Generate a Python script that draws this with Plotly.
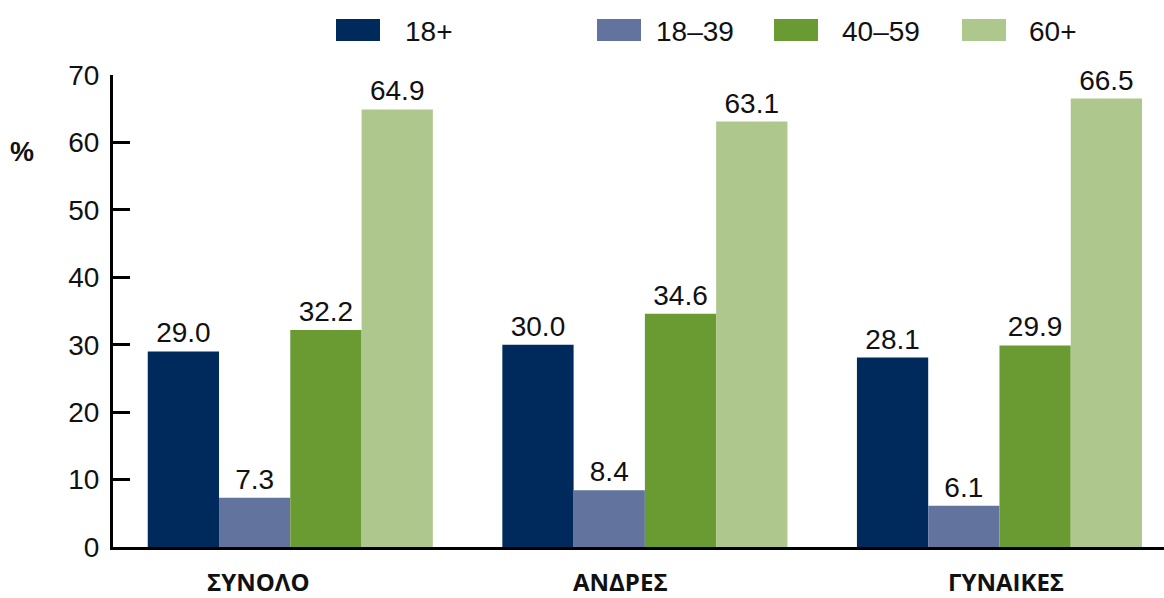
import plotly.graph_objects as go

categories = ["ΣΥΝΟΛΟ", "ΑΝΔΡΕΣ", "ΓΥΝΑΙΚΕΣ"]
series_names = ["18+", "18–39", "40–59", "60+"]
values_18plus = [29.0, 30.0, 28.1]
values_18_39 = [7.3, 8.4, 6.1]
values_40_59 = [32.2, 34.6, 29.9]
values_60plus = [64.9, 63.1, 66.5]
y_ticks = [0, 10, 20, 30, 40, 50, 60, 70]

series_values = [values_18plus, values_18_39, values_40_59, values_60plus]
colors = ["#002A5C", "#62749E", "#6A9B32", "#AEC78C"]

W, H = 1164, 598
L, R, T, B = 113, 0, 75, 51
PW = W - L - R
PH = H - T - B
FONT = "Liberation Sans"


def px_x(px):
    return (px - L) / PW


def px_y(py):
    return (H - B - py) / PH


fig = go.Figure()
for name, vals, col in zip(series_names, series_values, colors):
    fig.add_trace(go.Bar(
        x=list(range(len(categories))), y=vals, name=name,
        marker=dict(color=col, line=dict(width=0)),
        text=vals, texttemplate="%{y:.1f}", textposition="outside",
        textfont=dict(family=FONT, size=28, color="#111111"),
        cliponaxis=False, showlegend=False,
    ))

shapes = []
annotations = []
# legend (drawn manually to match big swatches)
swatch_x = [336, 597, 774, 962]
text_x = [403, 654, 840, 1027]
for sx, tx, name, col in zip(swatch_x, text_x, series_names, colors):
    shapes.append(dict(type="rect", xref="paper", yref="paper",
                       x0=px_x(sx), x1=px_x(sx + 44), y0=px_y(41), y1=px_y(19),
                       fillcolor=col, line=dict(width=0)))
    annotations.append(dict(xref="paper", yref="paper", x=px_x(tx), y=px_y(31),
                            text=name, showarrow=False, xanchor="left", yanchor="middle",
                            font=dict(family=FONT, size=28, color="#111111")))

# category labels
label_shift = [-32, -24, 7]
for i, (cat, sh) in enumerate(zip(categories, label_shift)):
    annotations.append(dict(xref="x", yref="paper", x=i, y=px_y(581), xshift=sh,
                            text="<b>" + cat + "</b>", showarrow=False,
                            xanchor="center", yanchor="middle",
                            font=dict(family="Open Sans", size=24, color="#111111")))

annotations.append(dict(xref="paper", yref="paper", x=px_x(22), y=px_y(152),
                        text="<b>%</b>", showarrow=False, xanchor="center", yanchor="middle",
                        font=dict(family=FONT, size=27, color="#111111")))

fig.update_layout(
    width=W, height=H,
    margin=dict(l=L, r=R, t=T, b=B),
    paper_bgcolor="white", plot_bgcolor="white",
    barmode="group", bargap=0.196, bargroupgap=0,
    showlegend=False,
    shapes=shapes, annotations=annotations,
    xaxis=dict(range=[-0.5, 2.464], showticklabels=False, ticks="",
               showline=True, linecolor="black", linewidth=3,
               showgrid=False, zeroline=False, fixedrange=True),
    yaxis=dict(range=[0, 70], tickvals=y_ticks, ticks="inside", ticklen=17,
               tickwidth=3, tickcolor="black", showline=True, linecolor="black",
               linewidth=3, showgrid=False, zeroline=False, ticklabelstandoff=5,
               tickfont=dict(family=FONT, size=28, color="#111111")),
)

fig.write_html("out.html", config={"displayModeBar": False},
               post_script="document.body.style.margin='0';document.body.style.overflow='hidden';")
